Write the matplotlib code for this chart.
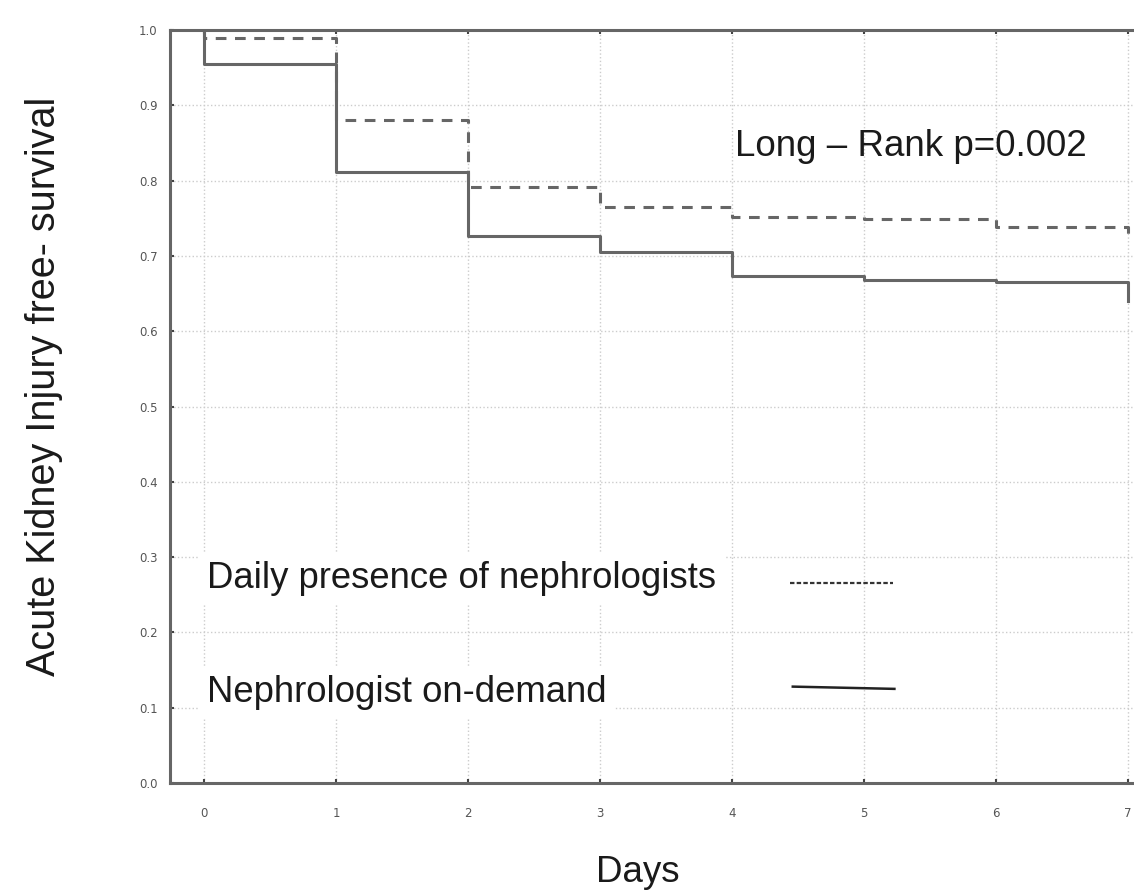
import matplotlib
matplotlib.use("Agg")
import matplotlib.pyplot as plt
from matplotlib.lines import Line2D

# survival curves (step drops at each day)
days = [0, 0, 1, 2, 3, 4, 5, 6, 7]
daily_surv = [1.0, 0.989, 0.881, 0.792, 0.765, 0.752, 0.749, 0.738, 0.72]
demand_surv = [1.0, 0.955, 0.812, 0.727, 0.705, 0.673, 0.668, 0.665, 0.64]

xticks = [0, 1, 2, 3, 4, 5, 6, 7]
yticks = [0.0, 0.1, 0.2, 0.3, 0.4, 0.5, 0.6, 0.7, 0.8, 0.9, 1.0]

plt.rcParams['font.family'] = ['Liberation Sans', 'DejaVu Sans']

fig = plt.figure(figsize=(11.34, 8.92), dpi=100)
ax = fig.add_axes([170/1134, 109/892, 990/1134, 753/892])

line_col = '#666666'
ax.step(days, daily_surv, where='post', color=line_col, lw=2.2,
        linestyle=(0, (3.5, 2.8)))
ax.step(days, demand_surv, where='post', color=line_col, lw=2.2)

ax.set_xlim(-0.258, -0.258 + 990/132)
ax.set_ylim(0, 1.0)
ax.set_xticks(xticks)
ax.set_yticks(yticks)
ax.set_xticklabels([str(t) for t in xticks], family='DejaVu Sans')
ax.set_yticklabels(['%.1f' % t for t in yticks], family='DejaVu Sans')
ax.tick_params(direction='in', length=3, width=1.5, color='#444444',
               labelsize=8.5, labelcolor='#555555', top=True, right=True)
ax.tick_params(axis='x', pad=17)
ax.tick_params(axis='y', pad=9)
ax.grid(True, color='#cccccc', linestyle=':', linewidth=1)

for s in ax.spines.values():
    s.set_color('#666666')
    s.set_linewidth(2.2)

ax.set_ylabel('Acute Kidney Injury free- survival', fontsize=28.5, color='#1a1a1a')
ax.yaxis.set_label_coords(-0.108, 0.527)
ax.set_xlabel('Days', fontsize=26.5, color='#1a1a1a')
ax.xaxis.set_label_coords(0.473, -0.096)

ax.text(4.02, 0.845, 'Long \u2013 Rank p=0.002', fontsize=26.5, color='#1a1a1a',
        va='center', ha='left')

# hand-made legend: labels on the left, line keys on the right
box = dict(facecolor='white', edgecolor='none', pad=6)
ax.text(0.02, 0.272, 'Daily presence of nephrologists', fontsize=26.3,
        color='#1a1a1a', va='center', ha='left', bbox=box)
ax.text(0.02, 0.120, 'Nephrologist on-demand', fontsize=26.3,
        color='#1a1a1a', va='center', ha='left', bbox=box)
ax.add_line(Line2D([4.44, 5.22], [0.266, 0.266], color='#333333', lw=1.6,
                   linestyle=(0, (2, 1))))
ax.add_line(Line2D([4.46, 5.23], [0.128, 0.125], color='#222222', lw=1.8))

fig.savefig('out.png', dpi=100)
